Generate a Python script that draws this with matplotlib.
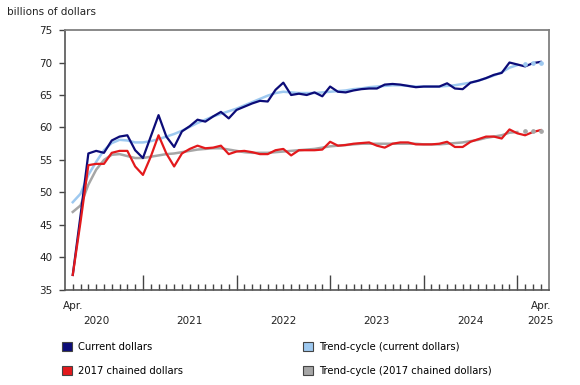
import matplotlib
matplotlib.use("Agg")
import matplotlib.pyplot as plt
from matplotlib.patches import Patch
import matplotlib.transforms as mtransforms
import pandas as pd

# Monthly values, April 2020 to April 2025 (billions of dollars)
months = pd.date_range("2020-04-01", "2025-04-01", freq="MS")

current = [37.3, 46.5, 56.0, 56.4, 56.1, 58.0, 58.6, 58.8, 56.5, 55.3,
           58.6, 61.9, 58.6, 57.0, 59.4, 60.2, 61.2, 60.9, 61.7, 62.4,
           61.4, 62.7, 63.2, 63.7, 64.1, 64.0, 65.8, 66.9, 65.0, 65.2,
           65.0, 65.4, 64.8, 66.3, 65.5, 65.4, 65.7, 65.9, 66.0, 66.0,
           66.6, 66.7, 66.6, 66.4, 66.2, 66.3, 66.3, 66.3, 66.8, 66.0,
           65.9, 66.9, 67.2, 67.6, 68.1, 68.4, 70.0, 69.7, 69.4, 69.9,
           70.1]
chained = [37.3, 45.5, 54.2, 54.4, 54.4, 56.1, 56.4, 56.4, 54.0, 52.7,
           55.5, 58.8, 56.0, 54.0, 56.0, 56.7, 57.2, 56.8, 56.9, 57.2,
           55.9, 56.3, 56.4, 56.2, 55.9, 55.9, 56.5, 56.7, 55.7, 56.5,
           56.5, 56.5, 56.6, 57.8, 57.2, 57.3, 57.5, 57.6, 57.7, 57.2,
           56.9, 57.5, 57.7, 57.7, 57.4, 57.4, 57.4, 57.5, 57.8, 57.0,
           57.0, 57.8, 58.2, 58.6, 58.6, 58.3, 59.7, 59.1, 58.8, 59.3,
           59.6]
trend_current = [48.5, 49.8, 52.7, 54.7, 56.5, 57.6, 58.1, 58.0, 57.7, 57.7,
                 57.9, 58.2, 58.6, 59.0, 59.5, 60.1, 60.7, 61.2, 61.7, 62.1,
                 62.5, 62.9, 63.4, 63.9, 64.4, 64.9, 65.3, 65.5, 65.4, 65.3,
                 65.3, 65.3, 65.4, 65.5, 65.6, 65.7, 65.9, 66.0, 66.2, 66.3,
                 66.4, 66.5, 66.5, 66.4, 66.3, 66.3, 66.3, 66.3, 66.4, 66.5,
                 66.7, 66.9, 67.2, 67.6, 68.0, 68.5, 69.2, 69.6, 69.8, 69.9,
                 70.0]
trend_chained = [47.0, 48.0, 51.2, 53.5, 55.0, 55.8, 55.9, 55.6, 55.3, 55.3,
                 55.5, 55.7, 55.9, 56.0, 56.2, 56.4, 56.6, 56.7, 56.8, 56.8,
                 56.6, 56.4, 56.2, 56.1, 56.1, 56.1, 56.2, 56.3, 56.4, 56.5,
                 56.6, 56.7, 56.9, 57.1, 57.2, 57.3, 57.4, 57.5, 57.5, 57.5,
                 57.5, 57.5, 57.5, 57.5, 57.5, 57.4, 57.4, 57.4, 57.5, 57.6,
                 57.7, 57.9, 58.1, 58.4, 58.6, 58.8, 59.2, 59.3, 59.4, 59.5,
                 59.5]
n_tail = 4  # last trend-cycle points shown as dots only

labels = ["Current dollars", "2017 chained dollars",
          "Trend-cycle (current dollars)", "Trend-cycle (2017 chained dollars)"]
colors = ["#0c0c78", "#e3191c", "#9ec9f0", "#a6a6a6"]

plt.rcParams["font.family"] = "DejaVu Sans"
fig = plt.figure(figsize=(5.8, 3.85), dpi=100)
ax = fig.add_axes([0.112, 0.247, 0.835, 0.675])

x = list(range(len(months)))
k = len(x) - n_tail

ax.plot(x[:k + 1], trend_current[:k + 1], color=colors[2], lw=1.8, zorder=2)
ax.plot(x[:k + 1], trend_chained[:k + 1], color=colors[3], lw=1.8, zorder=2)
ax.plot(x, current, color=colors[0], lw=1.6, zorder=3)
ax.plot(x, chained, color=colors[1], lw=1.6, zorder=3)
ax.plot(x[k + 1:], trend_current[k + 1:], "o", color=colors[2], ms=2.4, zorder=4)
ax.plot(x[k + 1:], trend_chained[k + 1:], "o", color=colors[3], ms=2.4, zorder=4)

ax.set_xlim(-1, 61.1)
ax.set_ylim(35, 75)
ax.set_yticks(range(35, 80, 5))

# month ticks: long ticks at January, short ones otherwise
jan = [i for i, m in enumerate(months) if m.month == 1]
others = [i for i, m in enumerate(months) if m.month != 1]
ax.set_xticks(jan)
ax.set_xticks(others, minor=True)
ax.set_xticklabels([])
ax.tick_params(axis="x", which="major", direction="in", length=10.5,
               width=1, color="#444444")
ax.tick_params(axis="x", which="minor", direction="in", length=4,
               width=1, color="#444444")
ax.tick_params(axis="y", direction="out", length=4, width=1,
               color="#444444", labelsize=7.5, labelcolor="#222222", pad=5)

for side in ["left", "bottom"]:
    ax.spines[side].set_color("#555555")
    ax.spines[side].set_linewidth(1.2)
for side in ["top", "right"]:
    ax.spines[side].set_color("#808080")
    ax.spines[side].set_linewidth(1.3)

# year labels under the axis
trans = mtransforms.blended_transform_factory(ax.transData, ax.transAxes)
ax.text(0, -0.062, "Apr.", transform=trans, ha="center", va="center",
        fontsize=7.5, color="#222222")
ax.text(x[-1], -0.062, "Apr.", transform=trans, ha="center", va="center",
        fontsize=7.5, color="#222222")
for year in sorted(set(m.year for m in months)):
    idx = [i for i, m in enumerate(months) if m.year == year]
    pos = idx[-1] if year == months[-1].year else [i for i in idx if months[i].month == 7][0]
    ax.text(pos, -0.12, str(year), transform=trans, ha="center", va="center",
            fontsize=7.5, color="#222222")

fig.text(0.012, 0.982, "billions of dollars", ha="left", va="top",
         fontsize=7.5, color="#222222")

handles = [Patch(facecolor=c, edgecolor="#444444", linewidth=0.8) for c in colors]
fig.legend(handles, labels, ncol=2, loc="upper left",
           bbox_to_anchor=(0.1, 0.122), frameon=False, fontsize=7.2,
           handlelength=1.0, handleheight=1.0, handletextpad=0.6,
           columnspacing=12.0, labelspacing=1.4, borderaxespad=0)

fig.savefig("out.png", dpi=100)
